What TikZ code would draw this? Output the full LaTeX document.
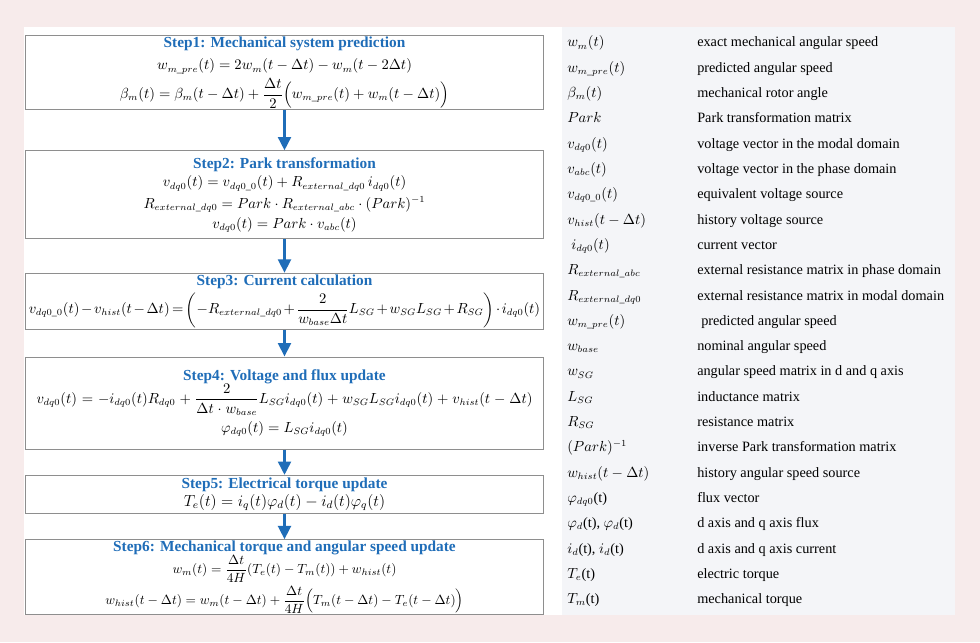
\documentclass[tikz,border=0pt]{standalone}
\usepackage[no-math]{fontspec}
\setmainfont{Liberation Serif}
\usepackage{amsmath}
\usetikzlibrary{arrows.meta,positioning}

\definecolor{bgpink}{HTML}{F7EBEB}
\definecolor{panelgray}{HTML}{F4F5F8}
\definecolor{stepblue}{HTML}{1F6DB8}
\definecolor{boxgray}{HTML}{8E8E8E}

\newcommand{\steptitle}[1]{{\fontsize{11.5}{14}\selectfont\bfseries\color{stepblue}#1}}
\newcommand{\smallmath}{\fontsize{9.9}{14}\selectfont}

\begin{document}
\begin{tikzpicture}[
  x=0.75pt, y=-0.75pt,
  every node/.style={font=\fontsize{10.7}{14}\selectfont},
  stepbox/.style={draw=boxgray, line width=0.8pt, fill=white, align=center,
                  minimum width=388pt, inner sep=1pt,
                  execute at begin node={\lineskiplimit=-100pt\relax}},
  line/.style={-{Triangle[length=10pt,width=9.5pt]}, line width=2.2pt, draw=stepblue},
  symcell/.style={anchor=base west, inner sep=0pt},
  desccell/.style={anchor=base west, inner sep=0pt}
]

% ===== Canvas and panels =====
\fill[bgpink] (0,0) rectangle (980,642);
\useasboundingbox (0,0) rectangle (980,642);
\fill[white] (24,27) rectangle (562,615);
\fill[panelgray] (562,27) rectangle (955,615);

% ===== Spine: six solution steps =====
\node[stepbox, minimum height=56pt] (step1) at (284.5,72.5)
  {\steptitle{Step1: Mechanical system prediction}\\[3pt]
   $w_{m\_pre}(t)=2w_m(t-\Delta t)-w_m(t-2\Delta t)$\\[7.5pt]
   $\beta_m(t)=\beta_m(t-\Delta t)+\dfrac{\Delta t}{2}\Bigl(w_{m\_pre}(t)+w_m(t-\Delta t)\Bigr)$};
\node[stepbox, minimum height=66pt, below=30pt of step1] (step2)
  {\steptitle{Step2: Park transformation}\\
   $v_{dq0}(t)=v_{dq0\_0}(t)+R_{external\_dq0}\,i_{dq0}(t)$\\[2pt]
   $R_{external\_dq0}=Park\cdot R_{external\_abc}\cdot(Park)^{-1}$\\[1pt]
   $v_{dq0}(t)=Park\cdot v_{abc}(t)$};
\node[stepbox, minimum height=42pt, below=25pt of step2] (step3)
  {\steptitle{Step3: Current calculation}\\[7pt]
   $\medmuskip=2mu\thickmuskip=3mu
    v_{dq0\_0}(t)-v_{hist}(t-\Delta t)=\biggl(-R_{external\_dq0}+\dfrac{2}{w_{base}\Delta t}L_{SG}+w_{SG}L_{SG}+R_{SG}\biggr)\cdot i_{dq0}(t)$};
\node[stepbox, minimum height=69pt, below=20pt of step3] (step4)
  {\steptitle{Step4: Voltage and flux update}\\[3.5pt]
   $\medmuskip=4.8mu\thickmuskip=6mu
    v_{dq0}(t)=-i_{dq0}(t)R_{dq0}+\dfrac{2}{\Delta t\cdot w_{base}}L_{SG}i_{dq0}(t)+w_{SG}L_{SG}i_{dq0}(t)+v_{hist}(t-\Delta t)$\\[8pt]
   $\varphi_{dq0}(t)=L_{SG}i_{dq0}(t)$};
\node[stepbox, minimum height=28.5pt, below=19pt of step4] (step5)
  {\steptitle{Step5: Electrical torque update}\\[-0.5pt]
   {\fontsize{11.5}{14}\selectfont$T_e(t)=i_q(t)\varphi_d(t)-i_d(t)\varphi_q(t)$}};
\node[stepbox, minimum height=51pt, below=19pt of step5] (step6)
  {\steptitle{Step6: Mechanical torque and angular speed update}\\[2pt]
   {\smallmath$w_m(t)=\dfrac{\Delta t}{4H}(T_e(t)-T_m(t))+w_{hist}(t)$}\\[9.5pt]
   {\smallmath$w_{hist}(t-\Delta t)=w_m(t-\Delta t)+\dfrac{\Delta t}{4H}\Bigl(T_m(t-\Delta t)-T_e(t-\Delta t)\Bigr)$}};

% ===== Edges: step to step =====
\draw[line] (step1.south) -- (step2.north);
\draw[line] (step2.south) -- (step3.north);
\draw[line] (step3.south) -- (step4.north);
\draw[line] (step4.south) -- (step5.north);
\draw[line] (step5.south) -- (step6.north);

% ===== Nomenclature panel =====
\foreach \sym/\desc [count=\i] in {
  {$w_m(t)$}/{exact mechanical angular speed},
  {$w_{m\_pre}(t)$}/{predicted angular speed},
  {$\beta_m(t)$}/{mechanical rotor angle},
  {$Park$}/{Park transformation matrix},
  {$v_{dq0}(t)$}/{voltage vector in the modal domain},
  {$v_{abc}(t)$}/{voltage vector in the phase domain},
  {$v_{dq0\_0}(t)$}/{equivalent voltage source},
  {$v_{hist}(t-\Delta t)$}/{history voltage source},
  {\hspace{3pt}$i_{dq0}(t)$}/{current vector},
  {$R_{external\_abc}$}/{external resistance matrix in phase domain},
  {$R_{external\_dq0}$}/{external resistance matrix in modal domain},
  {$w_{m\_pre}(t)$}/{\hspace{3pt}predicted angular speed},
  {$w_{base}$}/{nominal angular speed},
  {$w_{SG}$}/{angular speed matrix in d and q axis},
  {$L_{SG}$}/{inductance matrix},
  {$R_{SG}$}/{resistance matrix},
  {$(Park)^{-1}$}/{inverse Park transformation matrix},
  {$w_{hist}(t-\Delta t)$}/{history angular speed source},
  {$\varphi_{dq0}$(t)}/{flux vector},
  {$\varphi_d$(t), $\varphi_d$(t)}/{d axis and q axis flux},
  {$i_d$(t), $i_d$(t)}/{d axis and q axis current},
  {$T_e$(t)}/{electric torque},
  {$T_m$(t)}/{mechanical torque}}
{
  \node[symcell] (sym\i) at (567,{47+(\i-1)*25.3}) {\sym};
  \node[desccell] (desc\i) at (697,{47+(\i-1)*25.3}) {\desc};
}
\end{tikzpicture}
\end{document}
